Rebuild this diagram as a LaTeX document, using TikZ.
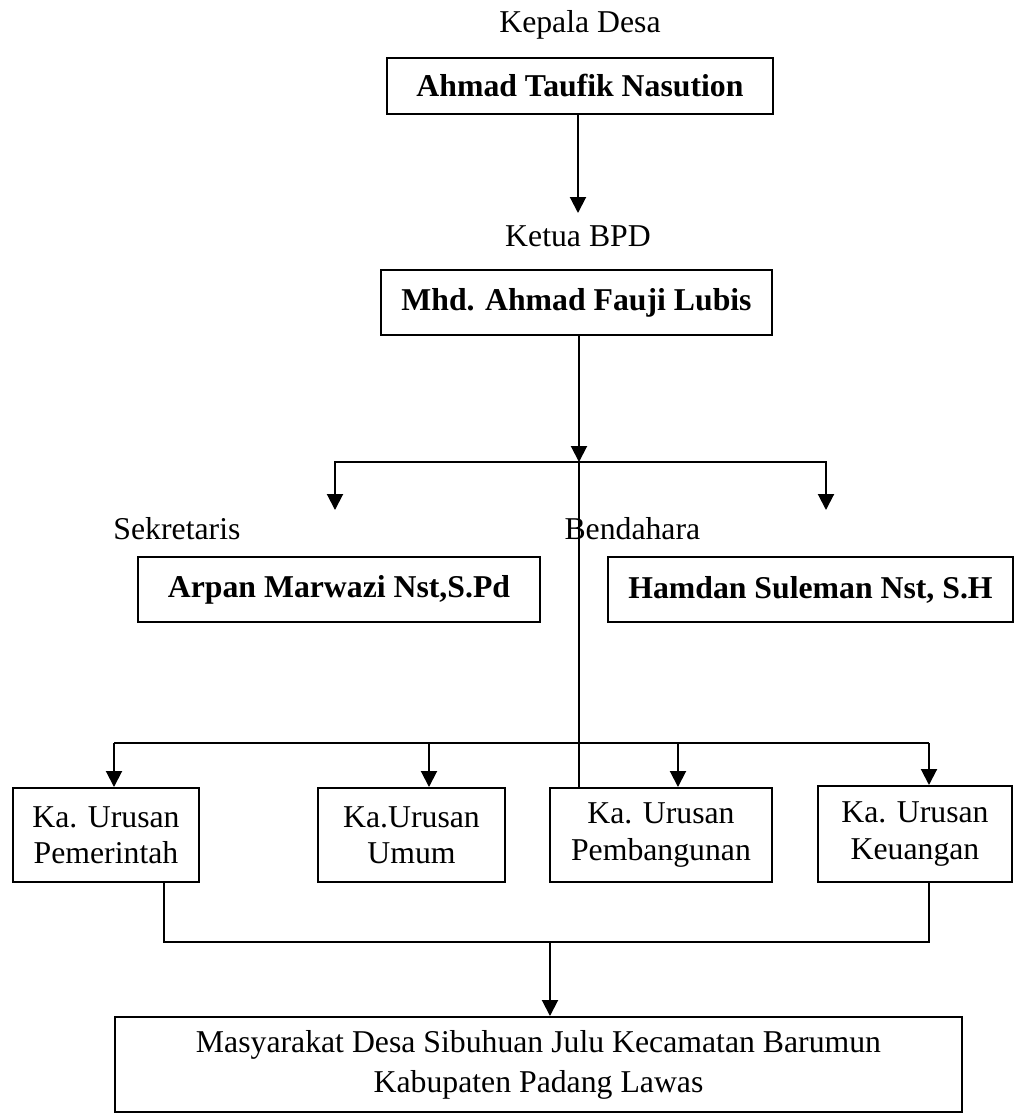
\documentclass[tikz,border=0pt]{standalone}
\usepackage{fontspec}
\setmainfont{Liberation Serif}
\usetikzlibrary{arrows.meta, positioning, calc}

\begin{document}
\begin{tikzpicture}[
  x=0.4pt, y=-0.4pt,
  font=\fontsize{12.7}{16}\selectfont, >={Triangle[length=6.4pt,width=6.4pt]},
  line/.style={line width=0.8pt},
  arr/.style={->, line width=0.8pt},
  role/.style={inner sep=0pt},
  namebox/.style={draw, line width=0.8pt, inner sep=0pt, minimum height=26pt,
                  font=\fontsize{12.7}{16}\selectfont\bfseries},
  urbox/.style={draw, line width=0.8pt, inner sep=0pt, align=center,
                minimum height=37.6pt, font=\fontsize{12.7}{14.5}\selectfont}
]
  \def\yUr{835} \def\yName{589.5}
  \useasboundingbox (0,0) rectangle (1014,1116);

  %--- kepala desa and ketua BPD ---
  \node[role] (lblKades) at (580,25) {Kepala Desa};
  \node[namebox, minimum width=154.4pt, minimum height=22.4pt]
    (kades) at (580,86) {Ahmad Taufik Nasution};
  \node[role] (lblBpd) at (578,236) {Ketua BPD};
  \node[namebox, minimum width=156.4pt]
    (bpd) at (576.5,302.5) {Mhd. Ahmad Fauji Lubis};

  %--- sekretaris and bendahara ---
  \node[role, anchor=west] (lblSek) at (113,529) {Sekretaris};
  \node[role, anchor=west] (lblBen) at (564,529) {Bendahara};
  \node[namebox, minimum width=160.8pt]
    (sek) at (339,\yName) {Arpan Marwazi Nst,S.Pd};
  \node[namebox, minimum width=162pt]
    (ben) at (810.5,\yName) {Hamdan Suleman Nst, S.H};

  %--- kepala urusan ---
  \node[urbox, minimum width=74.4pt] (urA) at (106,\yUr) {Ka. Urusan\\Pemerintah};
  \node[urbox, minimum width=74.8pt] (urB) at (411.5,\yUr) {Ka.Urusan\\Umum};
  \node[urbox, minimum width=88.8pt] (urC) at (661,\yUr) {Ka. Urusan\\Pembangunan};
  \node[urbox, minimum width=77.6pt, minimum height=38.4pt]
    (urD) at (915,834) {Ka. Urusan\\Keuangan};

  %--- masyarakat ---
  \node[urbox, minimum width=338.8pt, minimum height=38pt,
        font=\fontsize{12.7}{16}\selectfont]
    (mas) at (538.5,1064.5)
    {Masyarakat Desa Sibuhuan Julu Kecamatan Barumun\\Kabupaten Padang Lawas};

  %--- connectors ---
  \coordinate (kTip)   at (578,213);
  \coordinate (split)  at (579,462);
  \coordinate (sekTip) at (335,510);
  \coordinate (benTip) at (826,510);
  \draw[arr] (kades.south -| kTip) -- (kTip);
  \draw[arr] (bpd.south -| split) -- (split);
  \draw[line] (split) -- (urC.north -| split);
  \draw[arr] (split) -| (sekTip);
  \draw[arr] (split) -| (benTip);

  % lower bus
  \coordinate (busA) at (114,743);
  \coordinate (busB) at (429,743);
  \coordinate (busC) at (678,743);
  \coordinate (busD) at (929,743);
  \draw[line] (busA) -- (busD);
  \foreach \b/\u in {busA/urA, busB/urB, busC/urC, busD/urD}
    \draw[arr] (\b) -- (\b |- \u.north);

  % join to masyarakat
  \coordinate (j1) at (164,942);
  \coordinate (j2) at (929,942);
  \coordinate (j3) at (550,942);
  \draw[line] (urA.south -| j1) -- (j1) -- (j2) -- (urD.south -| j2);
  \draw[arr] (j3) -- (j3 |- mas.north);
\end{tikzpicture}
\end{document}
